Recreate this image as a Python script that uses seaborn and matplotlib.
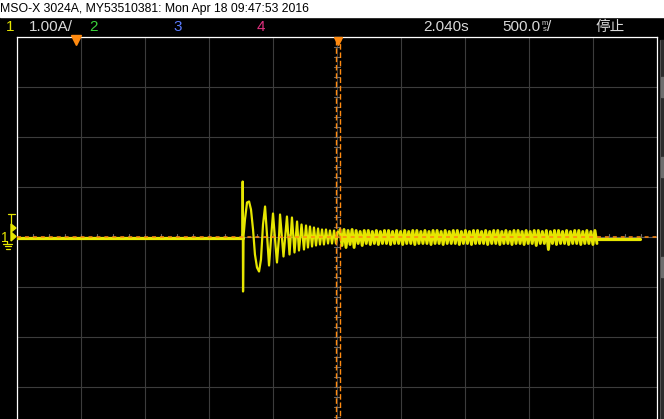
import numpy as np
import pandas as pd
import matplotlib
matplotlib.use("Agg")
import matplotlib.pyplot as plt
import seaborn as sns
from matplotlib import font_manager
from matplotlib.patches import Rectangle, Polygon
from matplotlib.lines import Line2D

# ---- scope settings (from the screen) ----
header_text = "MSO-X 3024A, MY53510381: Mon Apr 18 09:47:53 2016"
volts_label = "1.00A/"
delay_label = "2.040s"
timebase_label = "500.0"
run_state = "停止"
channel_labels = ["1", "2", "3", "4"]

delay_s = 2.040          # time at screen centre
sec_per_div = 0.5
amp_per_div = 1.0
n_xdiv, n_ydiv = 10, 8

# ---- channel 1 waveform (seconds, amps) ----
pre_t = [-0.46, 1.302]
pre_i = [-0.02, -0.02]

burst_t = [1.302, 1.303, 1.306, 1.310, 1.321, 1.337, 1.353, 1.368, 1.384,
           1.399, 1.415, 1.431, 1.446, 1.462, 1.478, 1.493, 1.509, 1.524,
           1.540, 1.556, 1.571, 1.587, 1.595, 1.622, 1.649, 1.669, 1.688,
           1.708, 1.728, 1.743, 1.763, 1.782, 1.798, 1.813, 1.829, 1.845,
           1.860, 1.876, 1.892, 1.907, 1.923, 1.938, 1.954, 1.970, 1.985,
           2.001, 2.017, 2.032, 2.048]
burst_i = [-0.02, 1.11, -1.09, 0.03, 0.35, 0.69, 0.71, 0.55, 0.15,
           -0.35, -0.61, -0.69, -0.45, 0.25, 0.61, 0.05, -0.57, -0.05,
           0.47, -0.05, -0.51, 0.00, 0.45, -0.39, 0.41, -0.35, 0.39,
           -0.31, 0.31, -0.27, 0.25, -0.25, 0.23, -0.21, 0.21, -0.19,
           0.19, -0.17, 0.17, -0.15, 0.15, -0.15, 0.15, -0.13, 0.13,
           -0.13, 0.13, -0.13, 0.11]

# steady ripple: one high and one low per visible cycle
ripple_start, ripple_end = 2.063, 4.071
ripple_hi = [0.15, 0.15, 0.13, 0.15, 0.13, 0.11, 0.13, 0.13,
             0.11, 0.13, 0.11, 0.13, 0.13, 0.11, 0.13, 0.11,
             0.13, 0.11, 0.13, 0.13, 0.11, 0.13, 0.11, 0.13,
             0.13, 0.11, 0.13, 0.11, 0.13, 0.13, 0.11, 0.13,
             0.11, 0.13, 0.13, 0.11, 0.13, 0.11, 0.13, 0.13,
             0.11, 0.13, 0.11, 0.13, 0.13, 0.11, 0.13, 0.11,
             0.13, 0.13, 0.11, 0.13, 0.11, 0.13, 0.13, 0.11,
             0.13, 0.11, 0.13, 0.13, 0.11, 0.13, 0.11, 0.13]
ripple_lo = [-0.17, -0.21, -0.15, -0.21, -0.13, -0.17, -0.13, -0.15,
             -0.13, -0.15, -0.13, -0.13, -0.15, -0.13, -0.13, -0.15,
             -0.13, -0.13, -0.15, -0.13, -0.13, -0.13, -0.15, -0.13,
             -0.13, -0.15, -0.13, -0.13, -0.13, -0.15, -0.13, -0.13,
             -0.15, -0.13, -0.13, -0.13, -0.15, -0.13, -0.13, -0.15,
             -0.13, -0.13, -0.15, -0.13, -0.13, -0.15, -0.13, -0.13,
             -0.17, -0.13, -0.13, -0.25, -0.13, -0.15, -0.13, -0.13,
             -0.15, -0.13, -0.13, -0.15, -0.13, -0.13, -0.15, -0.13]

post_t = [4.075, 4.407]
post_i = [-0.03, -0.03]

# ---- colours ----
BG = "#000000"
GRID = "#3c3c3c"
YELLOW = "#e6e600"
ORANGE = "#ff8a10"
TXT = "#d9d9d9"
CH_COLORS = [YELLOW, "#3ad23a", "#5b7cff", "#e0307f"]


def pick_font(names):
    for n in names:
        try:
            font_manager.findfont(n, fallback_to_default=False)
            return n
        except Exception:
            continue
    return "DejaVu Sans"


NARROW = pick_font(["Liberation Sans Narrow", "Liberation Sans", "DejaVu Sans"])

sns.set_theme(style="dark")
plt.rcParams["font.family"] = [NARROW, "Noto Sans CJK SC", "DejaVu Sans"]

W, H = 664, 419
fig = plt.figure(figsize=(W / 100, H / 100), dpi=100)
fig.patch.set_facecolor(BG)

# main graticule axes: x 17..657 px, y 37..437 px (bottom row cut off)
ax = fig.add_axes([17 / W, (H - 437) / H, 640 / W, 400 / H])
ax.set_facecolor(BG)
x0 = delay_s - n_xdiv / 2 * sec_per_div
x1 = delay_s + n_xdiv / 2 * sec_per_div
ax.set_xlim(x0, x1)
ax.set_ylim(-n_ydiv / 2 * amp_per_div, n_ydiv / 2 * amp_per_div)
ax.set_xticks(np.linspace(x0, x1, n_xdiv + 1))
ax.set_yticks(np.arange(-4, 5, 1.0))
ax.grid(True, color=GRID, lw=0.8)
ax.tick_params(length=0, labelbottom=False, labelleft=False)
for side in ["left", "top", "right"]:
    ax.spines[side].set_visible(True)
    ax.spines[side].set_color("white")
    ax.spines[side].set_linewidth(0.9)
ax.spines["bottom"].set_visible(False)

# centre-axis minor ticks
ax.axhline(0, color="#5a5a5a", lw=0.8, zorder=1)
for t in np.arange(x0, x1 + 1e-9, sec_per_div / 4):
    ax.plot([t, t], [0, 0.06], color="#6a6a6a", lw=0.8, zorder=1)
for v in np.arange(-4, 4.01, amp_per_div / 5):
    ax.plot([delay_s - 0.02, delay_s + 0.02], [v, v], color="#6a6a6a", lw=0.8, zorder=1)

# build the trace
rip_t = np.linspace(ripple_start, ripple_end, 2 * len(ripple_hi))
rip_i = np.ravel(np.column_stack([ripple_hi, ripple_lo]))
burst = pd.DataFrame({"t": burst_t, "i": burst_i})
sns.lineplot(data=burst, x="t", y="i", sort=False, estimator=None,
             color=YELLOW, lw=1.6, ax=ax, zorder=3)
ripple = pd.DataFrame({"t": rip_t, "i": rip_i})
sns.lineplot(data=ripple, x="t", y="i", sort=False, estimator=None,
             color=YELLOW, lw=2.1, ax=ax, zorder=3)
flat = pd.DataFrame({"t": pre_t, "i": pre_i})
sns.lineplot(data=flat, x="t", y="i", sort=False, estimator=None,
             color=YELLOW, lw=2.3, ax=ax, zorder=3)
flat2 = pd.DataFrame({"t": post_t, "i": post_i})
sns.lineplot(data=flat2, x="t", y="i", sort=False, estimator=None,
             color=YELLOW, lw=2.3, ax=ax, zorder=3)
ax.set_xlabel("")
ax.set_ylabel("")

# trigger level / reference dashed lines
ax.axhline(0.01, color=ORANGE, lw=1.1, ls=(0, (2.6, 2.6)), zorder=4)
ax.axvline(delay_s - 0.010, color=ORANGE, lw=1.0, ls=(0, (4, 2)), zorder=4)
ax.axvline(delay_s + 0.020, color=ORANGE, lw=1.0, ls=(3, (4, 2)), zorder=4)
ax.plot([delay_s + 0.005], [3.93], marker="v", ms=6, color=ORANGE, clip_on=False, zorder=5)
ax.plot([0.0], [3.95], marker="v", ms=7, color=ORANGE, clip_on=False, zorder=5)

# ---- overlay for the screen chrome, in pixels ----
ov = fig.add_axes([0, 0, 1, 1], zorder=10)
ov.set_xlim(0, W)
ov.set_ylim(H, 0)
ov.axis("off")
ov.patch.set_alpha(0)

ov.add_patch(Rectangle((0, 0), W, 17, color="white"))
ov.text(0, 12, header_text, color="black", fontsize=8.8, va="baseline", ha="left")

base = 31
ov.text(6, base, channel_labels[0], color=CH_COLORS[0], fontsize=11, va="baseline")
ov.text(29, base, volts_label, color=TXT, fontsize=11, va="baseline")
ov.text(89, base, channel_labels[1], color=CH_COLORS[1], fontsize=11, va="baseline")
ov.text(173, base, channel_labels[2], color=CH_COLORS[2], fontsize=11, va="baseline")
ov.text(257, base, channel_labels[3], color=CH_COLORS[3], fontsize=11, va="baseline")
ov.text(423, base, delay_label, color=TXT, fontsize=11, va="baseline")
ov.text(502, base, timebase_label, color=TXT, fontsize=11, va="baseline")
ov.text(541.5, 25, "m", color=TXT, fontsize=5.5, va="baseline")
ov.text(542.5, base, "s", color=TXT, fontsize=5.5, va="baseline")
ov.text(547, base, "/", color=TXT, fontsize=11, va="baseline")
ov.text(595, base, run_state, color=TXT, fontsize=10.5, va="baseline",
        family=["Noto Sans CJK SC", "DejaVu Sans"])

# channel 1 marker, trigger level marker and ground symbol on the left
ov.text(0.5, 241.5, "1", color=YELLOW, fontsize=10, va="baseline")
ov.add_patch(Polygon([(11, 224), (11, 232), (16, 228)], closed=True, color=YELLOW))
ov.add_patch(Polygon([(11, 232), (11, 241), (16, 236.5)], closed=True, color=YELLOW))
ov.add_line(Line2D([8, 14.5], [213.5, 213.5], color=YELLOW, lw=0.9))
ov.add_line(Line2D([11.3, 11.3], [213.5, 224], color=YELLOW, lw=0.9))
ov.add_line(Line2D([7, 7], [241, 243], color=YELLOW, lw=0.9))
ov.add_line(Line2D([3, 12], [243.5, 243.5], color=YELLOW, lw=0.9))
ov.add_line(Line2D([4.5, 10.5], [246, 246], color=YELLOW, lw=0.9))
ov.add_line(Line2D([5.5, 9.5], [248.5, 248.5], color=YELLOW, lw=0.9))

# scroll bar on the right edge
ov.add_patch(Rectangle((660, 40), 4, H - 40, color="#2c2c2c"))
ov.add_line(Line2D([660.3, 660.3], [40, H], color="#555555", lw=0.7))
for y in [77, 157, 257]:
    ov.add_patch(Rectangle((660.5, y), 3.5, 20, color="#6e6e6e"))

fig.savefig("out.png", dpi=100, facecolor=BG)
